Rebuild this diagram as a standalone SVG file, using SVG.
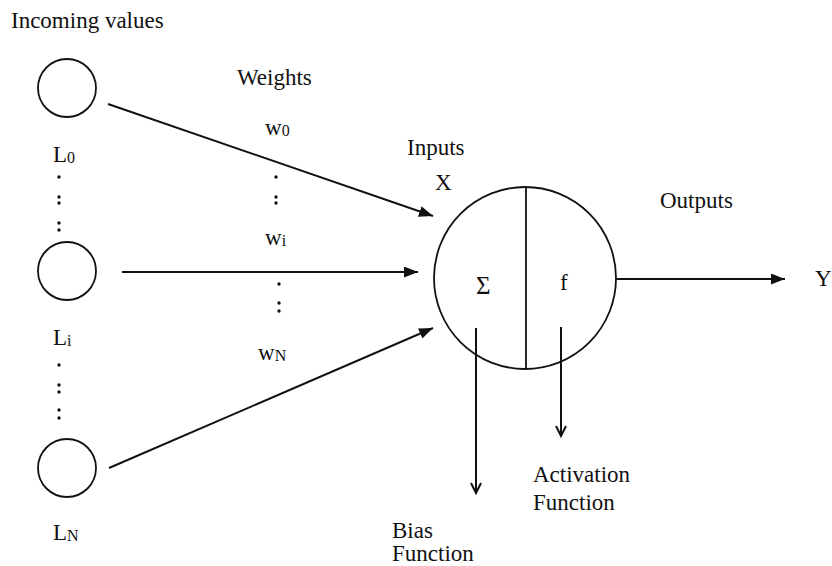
<svg xmlns="http://www.w3.org/2000/svg" width="832" height="566" viewBox="0 0 832 566" font-family="'Liberation Serif', 'DejaVu Serif', serif">
<style>
text{font-family:'Liberation Serif','DejaVu Serif',serif;font-size:23px;fill:#111}
.sub{font-size:16px}
.sig{font-size:25px}
.node{fill:none;stroke:#111;stroke-width:1.8}
.edge{fill:none;stroke:#111;stroke-width:2}
.dot{fill:#111}
</style>
<defs>
<marker id="tri" markerUnits="userSpaceOnUse" markerWidth="15" markerHeight="12" refX="14" refY="5.5" orient="auto">
<path d="M0,0 L14,5.5 L0,11 z" fill="#111"/>
</marker>
<marker id="vee" markerUnits="userSpaceOnUse" markerWidth="14" markerHeight="14" refX="11" refY="6" orient="auto">
<path d="M1,1 L11,6 L1,11" fill="none" stroke="#111" stroke-width="2"/>
</marker>
</defs>
<rect width="832" height="566" fill="#fff"/>
<text x="11" y="28">Incoming values</text>
<g id="L0"><circle class="node" cx="67" cy="88" r="29"/><text x="53" y="162">L<tspan class="sub" dy="1">0</tspan></text></g>
<g id="dots1" class="dot"><circle cx="59" cy="177" r="1.7"/><circle cx="59" cy="197" r="1.7"/><circle cx="59" cy="203" r="1.7"/><circle cx="59" cy="223" r="1.7"/><circle cx="59" cy="230" r="1.7"/></g>
<g id="Li"><circle class="node" cx="67" cy="271" r="29"/><text x="53" y="345">L<tspan class="sub" dy="1">i</tspan></text></g>
<g id="dots2" class="dot"><circle cx="59" cy="365" r="1.7"/><circle cx="59" cy="385" r="1.7"/><circle cx="59" cy="392" r="1.7"/><circle cx="59" cy="410" r="1.7"/><circle cx="59" cy="418" r="1.7"/></g>
<g id="LN"><circle class="node" cx="67" cy="468" r="29"/><text x="53" y="540">L<tspan class="sub" dy="1">N</tspan></text></g>
<g id="weights">
<text x="237" y="85">Weights</text>
<text x="265" y="135">w<tspan class="sub" dy="1">0</tspan></text>
<g class="dot"><circle cx="276" cy="177" r="1.7"/><circle cx="276" cy="197" r="1.7"/><circle cx="276" cy="203" r="1.7"/></g>
<text x="265" y="245">w<tspan class="sub" dy="1">i</tspan></text>
<g class="dot"><circle cx="279" cy="284" r="1.7"/><circle cx="279" cy="303" r="1.7"/><circle cx="279" cy="311" r="1.7"/></g>
<text x="258" y="360">w<tspan class="sub" dy="1">N</tspan></text>
</g>
<g id="neuron">
<circle class="node" cx="525" cy="278" r="91"/>
<line class="node" x1="526" y1="187" x2="526" y2="369"/>
<text class="sig" x="476" y="294">Σ</text>
<text x="560" y="290">f</text>
</g>
<text x="407" y="155">Inputs</text>
<text x="435" y="190">X</text>
<text x="660" y="208">Outputs</text>
<text x="815" y="286">Y</text>
<text x="533" y="482">Activation</text>
<text x="533" y="510">Function</text>
<text x="392" y="538">Bias</text>
<text x="392" y="561">Function</text>
<g id="connectors">
<line class="edge" x1="108" y1="104" x2="433" y2="216" marker-end="url(#tri)"/>
<line class="edge" x1="122" y1="272" x2="418" y2="272" marker-end="url(#tri)"/>
<line class="edge" x1="109" y1="468" x2="433" y2="328" marker-end="url(#tri)"/>
<line class="edge" x1="616" y1="279" x2="785" y2="279" marker-end="url(#tri)"/>
<line class="edge" x1="476" y1="328" x2="476" y2="493" marker-end="url(#vee)"/>
<line class="edge" x1="561" y1="327" x2="561" y2="436" marker-end="url(#vee)"/>
</g>
</svg>
